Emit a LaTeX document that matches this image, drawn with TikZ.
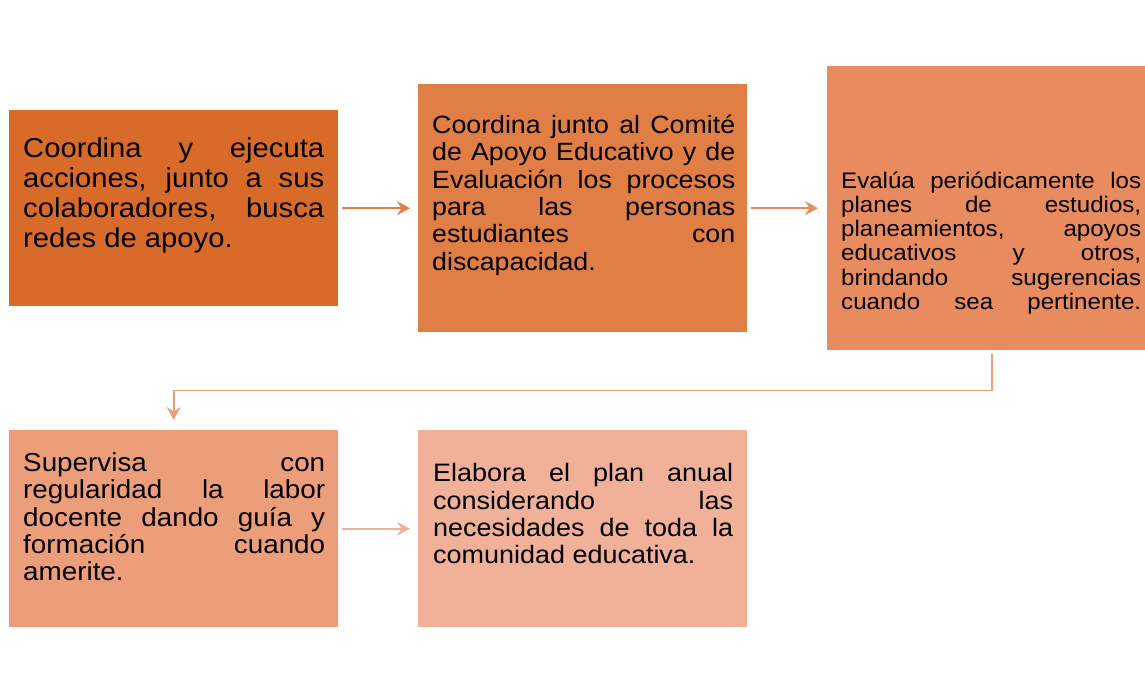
\documentclass[tikz,border=0pt]{standalone}
\usepackage{fontspec}
\setmainfont{Liberation Sans}[FakeStretch=1.07]
\usetikzlibrary{arrows.meta}
\definecolor{cA}{HTML}{D96B2A}
\definecolor{cB}{HTML}{E07E45}
\definecolor{cC}{HTML}{E88B5F}
\definecolor{cD}{HTML}{EC9E7B}
\definecolor{cE}{HTML}{F1B199}
\tikzset{
  box/.style={rectangle, inner sep=0pt, anchor=north west, draw=none},
  txt/.style={inner sep=0pt, anchor=base west, align=justify, text=black,
    execute at begin node={\hyphenpenalty=10000\exhyphenpenalty=10000\tolerance=10000}},
  arr/.style={line width=1.8pt, -{Stealth[length=13pt,width=14pt,inset=4.5pt]}},
}
\begin{document}
\begin{tikzpicture}[x=1pt,y=-1pt]
\useasboundingbox (0,0) rectangle (1145,677);
% boxes
\node[box, fill=cA, minimum width=329pt, minimum height=196pt] (b1) at (9,110) {};
\node[box, fill=cB, minimum width=329pt, minimum height=248pt] (b2) at (418,84) {};
\node[box, fill=cC, minimum width=330pt, minimum height=284pt] (b3) at (827,66) {};
\node[box, fill=cD, minimum width=329pt, minimum height=197pt] (b4) at (9,430) {};
\node[box, fill=cE, minimum width=329pt, minimum height=197pt] (b5) at (418,430) {};
% texts
\node[txt, text width=301pt, font=\fontsize{27.3}{30}\selectfont] (t1) at (23,157)
  {Coordina y ejecuta\linebreak acciones, junto a sus\linebreak colaboradores, busca\linebreak redes de apoyo.};
\node[txt, text width=303pt, font=\fontsize{25}{27.4}\selectfont] (t2) at (432,133.3)
  {Coordina junto al Comité\linebreak de Apoyo Educativo y de\linebreak Evaluación los procesos\linebreak para las personas\linebreak estudiantes con\linebreak discapacidad.};
\node[txt, text width=300pt, font=\fontsize{22.5}{24.2}\selectfont,
  execute at begin node={\hyphenpenalty=10000\exhyphenpenalty=10000\tolerance=10000\parfillskip=0pt}] (t3) at (841,188.3)
  {Evalúa periódicamente los\linebreak planes de estudios,\linebreak planeamientos, apoyos\linebreak educativos y otros,\linebreak brindando sugerencias\linebreak cuando sea pertinente.};
\node[txt, text width=302pt, font=\fontsize{26}{27.2}\selectfont] (t4) at (23,471.7)
  {Supervisa con\linebreak regularidad la labor\linebreak docente dando guía y\linebreak formación cuando\linebreak amerite.};
\node[txt, text width=300pt, font=\fontsize{25.2}{27.3}\selectfont] (t5) at (433,481.7)
  {Elabora el plan anual\linebreak considerando las\linebreak necesidades de toda la\linebreak comunidad educativa.};
% connectors
\draw[arr, draw=cB, shorten <=4pt, shorten >=8pt] (b1) -- (b2);
\draw[arr, draw=cC, shorten <=4pt, shorten >=9pt] (b2) -- (b3);
\draw[arr, draw=cD, shorten <=4pt, shorten >=10pt] (b3.south) -- ++(0,40) -| (b4.north);
\draw[arr, draw=cE, shorten <=4pt, shorten >=8pt] (b4) -- (b5);
\end{tikzpicture}
\end{document}
